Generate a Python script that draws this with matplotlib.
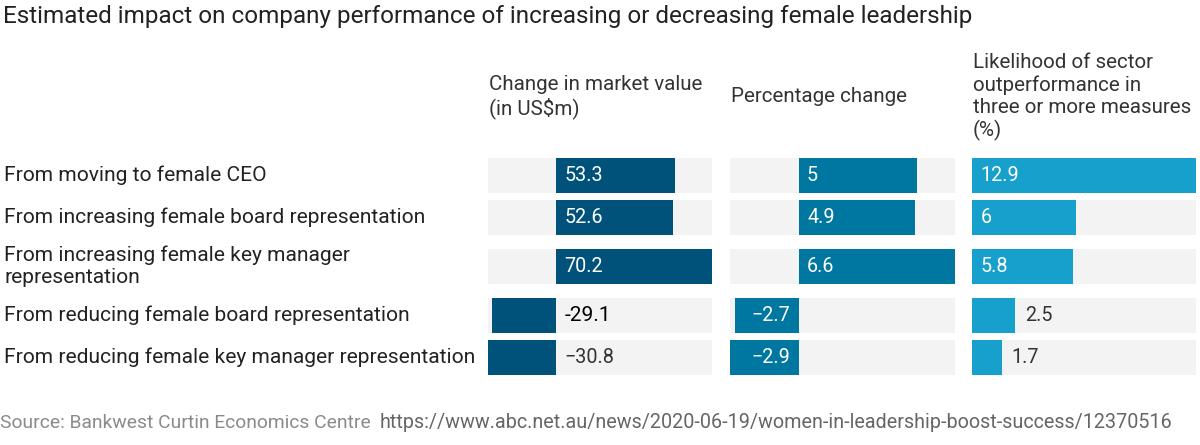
import matplotlib.pyplot as plt

plt.rcParams['font.family'] = ['Roboto', 'DejaVu Sans']

# data
rows = ['From moving to female CEO',
        'From increasing female board representation',
        'From increasing female key manager\nrepresentation',
        'From reducing female board representation',
        'From reducing female key manager representation']
headers = ['Change in market value\n(in US$m)',
           'Percentage change',
           'Likelihood of sector\noutperformance in\nthree or more measures\n(%)']
market_value = [53.3, 52.6, 70.2, -29.1, -30.8]
pct_change = [5, 4.9, 6.6, -2.7, -2.9]
likelihood = [12.9, 6, 5.8, 2.5, 1.7]
labels_mv = ['53.3', '52.6', '70.2', '-29.1', '\u221230.8']
labels_pc = ['5', '4.9', '6.6', '\u22122.7', '\u22122.9']
labels_lk = ['12.9', '6', '5.8', '2.5', '1.7']

colors = ['#00527a', '#0077a0', '#17a0cc']
bg = '#f3f3f3'

W, H = 1200, 445
fig = plt.figure(figsize=(12, 4.45), dpi=100)

# row centres in pixels, two-line labels get extra room
nlines = [r.count('\n') + 1 for r in rows]
ys = [175.5]
for i in range(1, len(rows)):
    ys.append(ys[-1] + 42 + 7 * (nlines[i - 1] - 1) + 7 * (nlines[i] - 1))
bar_h = 35

fig.text(3 / W, 1 - 16 / H, 'Estimated impact on company performance of increasing or decreasing female leadership',
         fontsize=17.5, color='#222222', va='center', ha='left')

for y, r in zip(ys, rows):
    fig.text(4 / W, 1 - y / H, r, fontsize=15.1, color='#222222', va='center', ha='left',
             linespacing=1.2)

cols = [(488, 712, market_value, labels_mv), (730, 955, pct_change, labels_pc),
        (972, 1196, likelihood, labels_lk)]

for k, (x0, x1, vals, labs) in enumerate(cols):
    ax = fig.add_axes([x0 / W, 0, (x1 - x0) / W, 1])
    lo, hi = min(0, min(vals)), max(vals)
    ax.set_xlim(lo, hi)
    ax.set_ylim(H, 0)
    ax.axis('off')
    ax.barh(ys, [hi - lo] * len(ys), left=lo, height=bar_h, color=bg)
    ax.barh(ys, vals, height=bar_h, color=colors[k])
    span = hi - lo
    for y, v, t in zip(ys, vals, labs):
        frac = abs(v) / span
        if v >= 0 and frac > 0.25:
            ax.annotate(t, (0, y), xytext=(6, 0), textcoords='offset points', color='white',
                        fontsize=14.2, va='center', ha='left')
        elif v >= 0:
            ax.annotate(t, (v, y), xytext=(7, 0), textcoords='offset points', color='#333333',
                        fontsize=14.2, va='center', ha='left')
        elif k == 0:
            ax.annotate(t, (0, y), xytext=(6, 0), textcoords='offset points',
                        color='black' if t.startswith('-') else '#333333',
                        fontsize=15 if t.startswith('-') else 14.2, va='center', ha='left')
        else:
            ax.annotate(t, (0, y), xytext=(-6, 0), textcoords='offset points', color='white',
                        fontsize=14.2, va='center', ha='right')
    fig.text(x0 / W + 1 / W, 1 - 97 / H, headers[k], fontsize=14.8, color='#333333',
             va='center', ha='left', linespacing=1.2)

fig.text(0, 1 - 423 / H, 'Source: Bankwest Curtin Economics Centre', fontsize=13.9,
         color='#8a8a8a', va='center', ha='left')
fig.text(380 / W, 1 - 423 / H, 'https://www.abc.net.au/news/2020-06-19/women-in-leadership-boost-success/12370516',
         fontsize=14.2, color='#666666', va='center', ha='left')

fig.savefig('out.png', dpi=100, facecolor='white')
